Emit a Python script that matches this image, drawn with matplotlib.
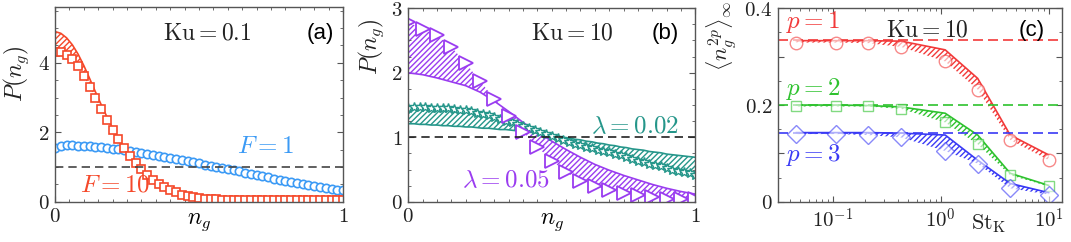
import numpy as np
import matplotlib
matplotlib.use('Agg')
import matplotlib.pyplot as plt
from matplotlib.ticker import MultipleLocator, FixedLocator, NullFormatter

plt.rcParams['mathtext.fontset'] = 'cm'
plt.rcParams['font.family'] = 'DejaVu Serif'
plt.rcParams['hatch.linewidth'] = 1.0

# ---- panel (a): Ku = 0.1 ----
ng_a = np.linspace(0, 1, 51)
f1_data = [1.56, 1.62, 1.63, 1.63, 1.62, 1.61, 1.60, 1.58, 1.57, 1.55,
           1.53, 1.51, 1.48, 1.46, 1.43, 1.40, 1.37, 1.35, 1.32, 1.29,
           1.26, 1.23, 1.20, 1.17, 1.14, 1.11, 1.07, 1.04, 1.01, 0.98,
           0.94, 0.91, 0.88, 0.84, 0.81, 0.78, 0.74, 0.71, 0.67, 0.64,
           0.61, 0.58, 0.55, 0.51, 0.48, 0.46, 0.43, 0.40, 0.37, 0.35, 0.33]
f1_model = [1.48, 1.50, 1.52, 1.53, 1.53, 1.53, 1.53, 1.52, 1.51, 1.50,
            1.49, 1.47, 1.45, 1.43, 1.41, 1.38, 1.36, 1.33, 1.31, 1.28,
            1.25, 1.22, 1.19, 1.16, 1.13, 1.10, 1.06, 1.03, 1.00, 0.97,
            0.93, 0.90, 0.87, 0.83, 0.80, 0.77, 0.73, 0.70, 0.66, 0.63,
            0.60, 0.57, 0.54, 0.50, 0.47, 0.45, 0.42, 0.39, 0.36, 0.34, 0.32]
f10_data = [4.32, 4.30, 4.22, 4.10, 3.90, 3.62, 3.30, 2.98, 2.66, 2.36,
            2.06, 1.80, 1.55, 1.33, 1.12, 0.94, 0.78, 0.64, 0.52, 0.42,
            0.34, 0.27, 0.21, 0.17, 0.13, 0.11, 0.09, 0.08, 0.07, 0.06,
            0.06, 0.05, 0.05, 0.05, 0.05, 0.05, 0.05, 0.05, 0.05, 0.05,
            0.05, 0.05, 0.05, 0.05, 0.05, 0.05, 0.05, 0.05, 0.05, 0.05, 0.05]
f10_model = [4.90, 4.85, 4.72, 4.52, 4.25, 3.92, 3.55, 3.17, 2.80, 2.45,
             2.12, 1.83, 1.56, 1.32, 1.10, 0.91, 0.75, 0.61, 0.49, 0.39,
             0.31, 0.24, 0.19, 0.15, 0.11, 0.09, 0.07, 0.06, 0.05, 0.04,
             0.04, 0.03, 0.03, 0.03, 0.02, 0.02, 0.02, 0.02, 0.02, 0.02,
             0.02, 0.02, 0.02, 0.02, 0.02, 0.02, 0.02, 0.02, 0.02, 0.02, 0.02]

# ---- panel (b): Ku = 10 ----
ng_tri = np.linspace(0, 1, 21)
lam05_data = [2.78, 2.68, 2.58, 2.40, 2.15, 1.87, 1.60, 1.33, 1.08, 0.85,
              0.64, 0.46, 0.33, 0.25, 0.18, 0.13, 0.10, 0.07, 0.05, 0.04, 0.04]
lam05_model = [2.00, 1.97, 1.92, 1.86, 1.80, 1.70, 1.56, 1.40, 1.23, 1.08,
               0.94, 0.81, 0.69, 0.58, 0.49, 0.41, 0.34, 0.27, 0.21, 0.16, 0.12]
ng_star = np.linspace(0, 1, 51)
lam02_data = [1.46, 1.47, 1.47, 1.47, 1.46, 1.46, 1.45, 1.45, 1.44, 1.43,
              1.42, 1.40, 1.38, 1.36, 1.34, 1.32, 1.29, 1.26, 1.23, 1.20,
              1.17, 1.14, 1.11, 1.08, 1.05, 1.02, 0.99, 0.96, 0.93, 0.90,
              0.88, 0.85, 0.83, 0.81, 0.79, 0.77, 0.74, 0.72, 0.69, 0.67,
              0.64, 0.62, 0.59, 0.57, 0.55, 0.52, 0.50, 0.48, 0.46, 0.44, 0.42]
lam02_model = [1.21, 1.21, 1.20, 1.20, 1.19, 1.19, 1.18, 1.18, 1.17, 1.17,
               1.16, 1.16, 1.15, 1.14, 1.14, 1.13, 1.12, 1.12, 1.11, 1.10,
               1.09, 1.08, 1.07, 1.06, 1.04, 1.03, 1.02, 1.00, 0.99, 0.97,
               0.96, 0.94, 0.93, 0.91, 0.90, 0.88, 0.87, 0.85, 0.84, 0.82,
               0.81, 0.80, 0.78, 0.77, 0.76, 0.74, 0.73, 0.72, 0.71, 0.70, 0.69]

# ---- panel (c): moments vs St_K ----
st_k = [0.046, 0.108, 0.21, 0.43, 1.1, 2.2, 4.4, 10.0]
p1_data = [0.329, 0.329, 0.328, 0.320, 0.290, 0.232, 0.128, 0.086]
p1_model = [0.333, 0.333, 0.333, 0.332, 0.314, 0.255, 0.138, 0.097]
p2_data = [0.197, 0.197, 0.197, 0.192, 0.164, 0.119, 0.055, 0.032]
p2_model = [0.200, 0.200, 0.199, 0.196, 0.183, 0.138, 0.059, 0.034]
p3_data = [0.140, 0.140, 0.138, 0.133, 0.105, 0.079, 0.028, 0.015]
p3_model = [0.143, 0.143, 0.143, 0.142, 0.138, 0.086, 0.038, 0.019]
p_limits = [1/3, 1/5, 1/7]

red_a = '#f5482a'
blue_a = '#3b9af5'
purple = '#9a3cf0'
teal = '#25968a'
red_c = '#f23a3a'
green_c = '#2ec22e'
blue_c = '#3a3af5'
spine_c = '#555555'

fig = plt.figure(figsize=(10.71, 2.42), dpi=100)
ax1 = fig.add_axes([0.0514, 0.166, 0.2689, 0.804])
ax2 = fig.add_axes([0.3812, 0.166, 0.268, 0.800])
ax3 = fig.add_axes([0.7264, 0.166, 0.2652, 0.800])


def style(ax):
    for s in ax.spines.values():
        s.set_color(spine_c)
        s.set_linewidth(1.0)
    ax.tick_params(which='both', direction='in', top=True, right=True,
                   color=spine_c, labelsize=15, pad=4, labelcolor='#222222')
    ax.tick_params(which='major', length=4)
    ax.tick_params(which='minor', length=2.5)


def band(ax, x, a, b, color):
    ax.fill_between(x, a, b, facecolor='none', edgecolor=color,
                    hatch='//////', linewidth=0)


# panel (a)
style(ax1)
band(ax1, ng_a, f1_data, f1_model, blue_a)
band(ax1, ng_a, f10_data, f10_model, red_a)
ax1.plot(ng_a, f1_model, color=blue_a, lw=1.2)
ax1.plot(ng_a, f10_model, color=red_a, lw=1.2)
ax1.plot(ng_a, f1_data, 'o', ms=6, mfc='white', mec=blue_a, mew=1.2)
ax1.plot(ng_a, f10_data, 's', ms=5.5, mfc='white', mec=red_a, mew=1.2)
ax1.axhline(1, color='#444444', ls=(0, (5, 3)), lw=1.2)
ax1.set_xlim(0, 1)
ax1.set_ylim(0, 5.6)
ax1.xaxis.set_major_locator(FixedLocator([0, 1]))
ax1.xaxis.set_minor_locator(MultipleLocator(0.05))
ax1.set_xticklabels(['$0$', '$1$'])
ax1.yaxis.set_major_locator(FixedLocator([0, 2, 4]))
ax1.yaxis.set_minor_locator(MultipleLocator(0.5))
ax1.set_yticklabels(['$0$', '$2$', '$4$'])
ax1.text(0.5, -0.1, '$n_g$', transform=ax1.transAxes, ha='center', va='center', fontsize=17)
ax1.text(-0.135, 0.66, '$P(n_g)$', transform=ax1.transAxes, ha='center', va='center',
         rotation=90, fontsize=17, color='#222222')
ax1.text(0.53, 4.85, r'$\mathrm{Ku} = 0.1$', ha='center', va='center', fontsize=17, color='#222222')
ax1.text(0.92, 4.85, '(a)', family='Liberation Sans', ha='center', va='center', fontsize=16)
ax1.text(0.73, 1.6, '$F = 1$', color=blue_a, ha='center', va='center', fontsize=18)
ax1.text(0.21, 0.48, '$F = 10$', color=red_a, ha='center', va='center', fontsize=18)

# panel (b)
style(ax2)
band(ax2, ng_star, lam02_data, lam02_model, teal)
band(ax2, ng_tri, lam05_data, lam05_model, purple)
ax2.plot(ng_star, lam02_model, color=teal, lw=1.2)
ax2.plot(ng_tri, lam05_model, color=purple, lw=1.2)
ax2.plot(ng_star, lam02_data, '*', ms=7, mfc='white', mec=teal, mew=1.0)
ax2.plot(ng_tri, lam05_data, '>', ms=10, mfc='white', mec=purple, mew=1.3)
ax2.axhline(1, color='#222222', ls=(0, (5, 3)), lw=1.2)
ax2.set_xlim(0, 1)
ax2.set_ylim(0, 3)
ax2.xaxis.set_major_locator(FixedLocator([0, 1]))
ax2.xaxis.set_minor_locator(MultipleLocator(0.05))
ax2.set_xticklabels(['$0$', '$1$'])
ax2.yaxis.set_major_locator(FixedLocator([0, 1, 2, 3]))
ax2.yaxis.set_minor_locator(MultipleLocator(0.25))
ax2.set_yticklabels(['$0$', '$1$', '$2$', '$3$'])
ax2.text(0.5, -0.1, '$n_g$', transform=ax2.transAxes, ha='center', va='center', fontsize=17)
ax2.text(-0.13, 0.8, '$P(n_g)$', transform=ax2.transAxes, ha='center', va='center',
         rotation=90, fontsize=17, color='#222222')
ax2.text(0.57, 2.61, r'$\mathrm{Ku} = 10$', ha='center', va='center', fontsize=17, color='#222222')
ax2.text(0.895, 2.61, '(b)', family='Liberation Sans', ha='center', va='center', fontsize=16)
ax2.text(0.79, 1.17, r'$\lambda = 0.02$', color=teal, ha='center', va='center', fontsize=18)
ax2.text(0.34, 0.33, r'$\lambda = 0.05$', color=purple, ha='center', va='center', fontsize=18)

# panel (c)
style(ax3)
ax3.set_xscale('log')
for data, model, lim, col, mk, ms in [(p1_data, p1_model, p_limits[0], red_c, 'o', 9),
                                      (p2_data, p2_model, p_limits[1], green_c, 's', 7),
                                      (p3_data, p3_model, p_limits[2], blue_c, 'D', 9)]:
    band(ax3, st_k, data, model, col)
    ax3.axhline(lim, color=col, ls=(0, (6, 3)), lw=1.2)
    ax3.plot(st_k, model, color=col, lw=1.2)
    ax3.plot(st_k, data, mk, ms=ms, mfc='white', mec=col, mew=1.0, alpha=0.6)
ax3.set_xlim(0.031, 13.3)
ax3.set_ylim(0, 0.4)
ax3.xaxis.set_major_locator(FixedLocator([0.1, 1, 10]))
ax3.set_xticklabels(['$10^{-1}$', '$10^{0}$', '$10^{1}$'])
ax3.xaxis.set_minor_formatter(NullFormatter())
ax3.yaxis.set_major_locator(FixedLocator([0, 0.1, 0.2, 0.3, 0.4]))
ax3.yaxis.set_minor_locator(MultipleLocator(0.05))
ax3.set_yticklabels(['$0$', '', '$0.2$', '', '$0.4$'])
ax3.text(2.8, -0.045, r'$\mathrm{St}_\mathrm{K}$', ha='center', va='center', fontsize=16,
         color='#222222')
ax3.text(-0.2, 0.86, r'$\langle n_g^{2p}\rangle_\infty$', transform=ax3.transAxes,
         ha='center', va='center', rotation=90, fontsize=16, color='#222222')
ax3.text(0.75, 0.355, r'$\mathrm{Ku} = 10$', ha='center', va='center', fontsize=17,
         color='#222222')
ax3.text(7.0, 0.355, '(c)', family='Liberation Sans', ha='center', va='center', fontsize=16)
ax3.text(0.066, 0.372, '$p = 1$', color=red_c, ha='center', va='center', fontsize=18)
ax3.text(0.066, 0.234, '$p = 2$', color=green_c, ha='center', va='center', fontsize=18)
ax3.text(0.066, 0.097, '$p = 3$', color=blue_c, ha='center', va='center', fontsize=18)

fig.savefig('out.png', dpi=100)
